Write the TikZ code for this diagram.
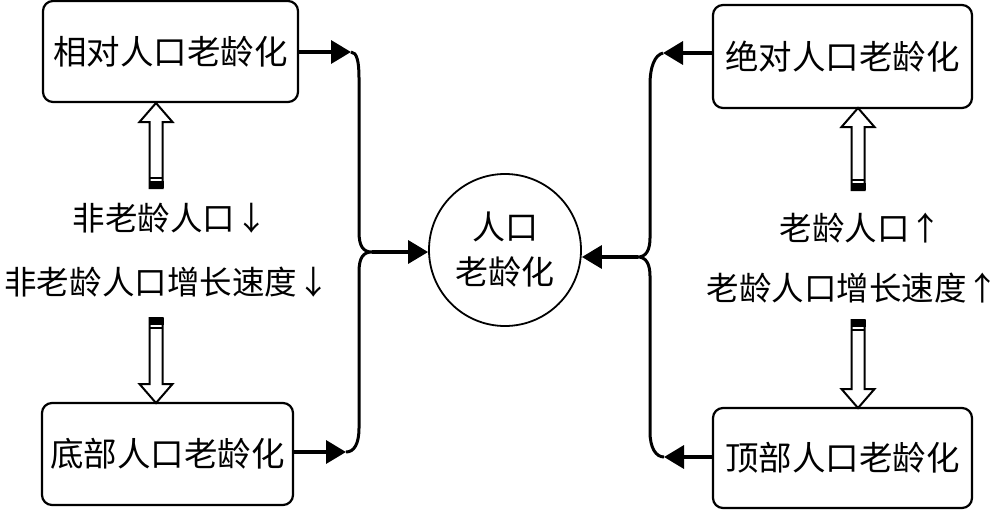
\documentclass[tikz,border=0pt]{standalone}
\usepackage{fontspec}
\newfontfamily\cjk{Noto Sans CJK SC}
\usetikzlibrary{arrows.meta,calc}
\tikzset{
  box/.style={draw, line width=2.2pt, rounded corners=10pt, inner sep=0pt,
    font=\cjk\fontsize{33.5}{38}\selectfont},
  conn/.style={line width=3.5pt, -{Triangle[length=20pt,width=23pt]}},
  bracel/.style={line width=3pt},
  lbl/.style={font=\cjk\fontsize{32.5}{38}\selectfont, inner sep=0pt},
  hollowline/.style={line width=2pt, fill=white, line join=miter},
}
\newcommand\hollowarr[3]{% x, y of tail, y of tip
  \pgfmathsetmacro\hArrS{(#3>#2)?1:-1}
  \pgfmathsetmacro\hArrB{#3-19*\hArrS}
  \draw[hollowline] (#1-6.5,#2) -- (#1-6.5,\hArrB) -- (#1-16.5,\hArrB) -- (#1,#3)
     -- (#1+16.5,\hArrB) -- (#1+6.5,\hArrB) -- (#1+6.5,#2) -- cycle;
  \fill (#1-7.5,#2) rectangle (#1+7.5,#2+7*\hArrS);
  \draw[line width=1.8pt] (#1-7,#2+10*\hArrS) -- (#1+7,#2+10*\hArrS);
}
\begin{document}
\begin{tikzpicture}[x=1pt,y=-1pt]
\useasboundingbox (0,0) rectangle (1000,512);

% boxes
\node[box, minimum width=255pt, minimum height=101pt] (tl) at (170.5,51.5) {相对人口老龄化};
\node[box, minimum width=251pt, minimum height=102pt] (bl) at (167.5,454) {底部人口老龄化};
\node[box, minimum width=259pt, minimum height=103pt] (tr) at (842.5,56.5) {绝对人口老龄化};
\node[box, minimum width=259pt, minimum height=100pt] (br) at (842.5,458) {顶部人口老龄化};

% centre circle
\node[draw, circle, line width=1.8pt, minimum size=152pt, inner sep=0pt,
      align=center, font=\cjk\fontsize{33}{45}\selectfont] (circ) at (505,250) {人口\\老龄化};

% labels
\node[lbl] (nl1) at (170,218) {非老龄人口↓};
\node[lbl] (nl2) at (167,282) {非老龄人口增长速度↓};
\node[lbl] (ol1) at (861,228) {老龄人口↑};
\node[lbl] (ol2) at (853,288) {老龄人口增长速度↑};

% hollow arrows
\hollowarr{156}{188}{103}
\hollowarr{156}{318}{403}
\hollowarr{858}{190}{108}
\hollowarr{858}{320}{408}

% left brace connectors
\coordinate (lt) at (351,52);
\coordinate (lm) at (372,252);
\coordinate (lb) at (346,452);
\draw[bracel] (lt) .. controls (357,52) and (359,62) .. (359,78) -- (359,232)
  .. controls (359,246) and (363,252) .. (lm)
  .. controls (363,252) and (359,258) .. (359,272) -- (359,428)
  .. controls (359,444) and (354,452) .. (lb);
\draw[conn] (tl.east |- lt) -- (lt);
\draw[conn] (bl.east |- lb) -- (lb);
\draw[conn] (lm) -- (lm -| circ.west);

% right brace connectors
\coordinate (rt) at (663,53);
\coordinate (rm) at (638,257);
\coordinate (rb) at (664,457);
\draw[bracel] (rt) .. controls (655,55) and (650,66) .. (650,85) -- (650,238)
  .. controls (650,250) and (646,257) .. (rm)
  .. controls (646,257) and (650,264) .. (650,276) -- (650,432)
  .. controls (650,448) and (656,457) .. (rb);
\draw[conn] (tr.west |- rt) -- (rt);
\draw[conn] (br.west |- rb) -- (rb);
\draw[conn] (rm) -- (rm -| circ.east);
\end{tikzpicture}
\end{document}
